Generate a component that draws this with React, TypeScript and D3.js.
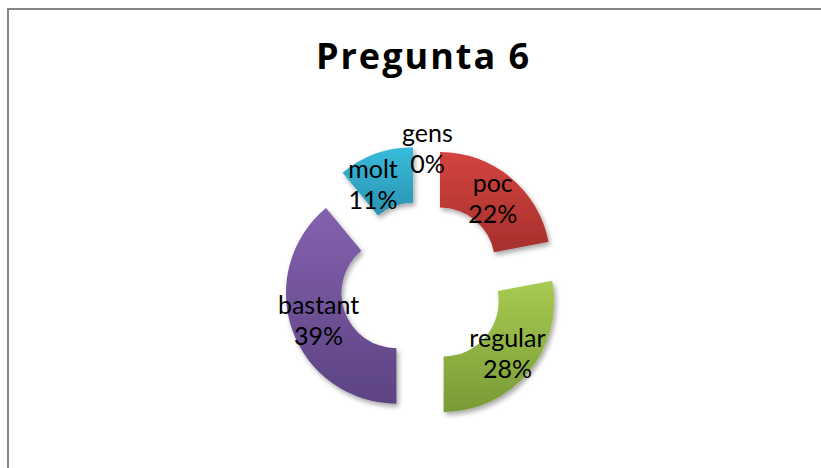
import React from "react";
import * as d3 from "d3";

const categories = ["gens", "poc", "regular", "bastant", "molt"];
const values = [0, 22, 28, 39, 11];
const colorsLight = ["#5B7FC0", "#D4443F", "#A8CB52", "#8462AE", "#38BCDC"];
const colorsDark = ["#3F5E96", "#A5302C", "#789A36", "#5C4382", "#2A92B0"];
const titleText = "Pregunta 6";

const W = 821;
const H = 468;
const cx = 422.4;
const cy = 283.8;
const outerR = 110.5;
const innerR = 55;
const explode = 27.6;
const labelFont = "Lato, 'Open Sans', sans-serif";
const titleFont = "'Open Sans', Lato, sans-serif";
// label nudges where the default position is moved to avoid overlap
const labelNudge: Record<string, [number, number]> = {
  gens: [5, -24],
  molt: [-12, 5],
};

export default function App() {
  const data = categories.map((c, i) => ({ c, v: values[i], i }));
  const pie = d3
    .pie<any>()
    .sort(null)
    .value((d: any) => d.v)
    .startAngle(0)
    .endAngle(2 * Math.PI);
  const arcs = pie(data);
  const arc = d3.arc<any>().innerRadius(innerR).outerRadius(outerR);
  const labelArc = d3
    .arc<any>()
    .innerRadius((innerR + outerR) / 2)
    .outerRadius((innerR + outerR) / 2);

  return (
    <svg
      width={W}
      height={H}
      style={{ position: "absolute", left: 0, top: 0, background: "#fff" }}
    >
      <defs>
        {arcs.map((a) => (
          <linearGradient
            key={a.data.c}
            id={`g-${a.data.c}`}
            x1="0"
            y1="0"
            x2="0"
            y2="1"
          >
            <stop offset="0" stopColor={colorsLight[a.data.i]} />
            <stop offset="1" stopColor={colorsDark[a.data.i]} />
          </linearGradient>
        ))}
        <filter id="shadow" x="-20%" y="-20%" width="140%" height="140%">
          <feDropShadow
            dx="2"
            dy="3"
            stdDeviation="2.5"
            floodColor="#000"
            floodOpacity="0.35"
          />
        </filter>
      </defs>
      <rect x={0} y={0} width={W} height={H} fill="#fff" />
      <rect
        x={8}
        y={9}
        width={900}
        height={600}
        fill="#fff"
        stroke="#868686"
        strokeWidth={2}
      />
      <text
        x={423.5}
        y={69}
        textAnchor="middle"
        fontFamily={titleFont}
        fontWeight="bold"
        fontSize={36}
        letterSpacing={2}
        fill="#000"
      >
        {titleText}
      </text>
      {arcs.map((a) => {
        const mid = (a.startAngle + a.endAngle) / 2;
        const dx = Math.sin(mid) * explode;
        const dy = -Math.cos(mid) * explode;
        if (a.endAngle - a.startAngle <= 0) return null;
        return (
          <path
            key={a.data.c}
            d={arc(a) as string}
            transform={`translate(${cx + dx},${cy + dy})`}
            fill={`url(#g-${a.data.c})`}
            filter="url(#shadow)"
          />
        );
      })}
      {arcs.map((a) => {
        const mid = (a.startAngle + a.endAngle) / 2;
        const dx = Math.sin(mid) * explode;
        const dy = -Math.cos(mid) * explode;
        const [lx, ly] = labelArc.centroid(a);
        const n = labelNudge[a.data.c] || [0, 0];
        const x = cx + dx + lx + n[0];
        const y = cy + dy + ly + n[1];
        const pct = Math.round((a.data.v / d3.sum(values)) * 100);
        return (
          <text
            key={a.data.c}
            x={x}
            y={y}
            textAnchor="middle"
            fontFamily={labelFont}
            fontSize={25}
            fill="#000"
          >
            <tspan x={x} dy={-7}>
              {a.data.c}
            </tspan>
            <tspan x={x} dy={31}>
              {`${pct}%`}
            </tspan>
          </text>
        );
      })}
    </svg>
  );
}
